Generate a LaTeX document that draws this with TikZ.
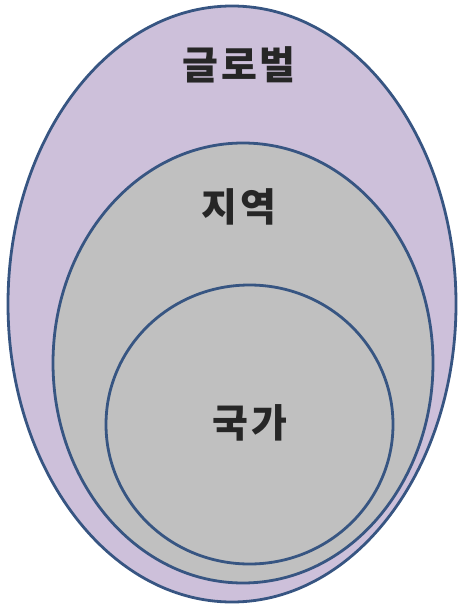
\documentclass[tikz,border=0pt]{standalone}
\usepackage{fontspec}
\newfontfamily\krfont{Noto Sans CJK KR}[LetterSpace=6]
\definecolor{rimblue}{RGB}{55,85,130}
\definecolor{globalfill}{RGB}{205,192,218}
\definecolor{innerfill}{RGB}{192,192,192}
\tikzset{
  ring/.style={draw=rimblue, line width=2.8pt},
  word/.style={font=\krfont\bfseries\fontsize{39}{44}\selectfont, text=black!85}
}

\begin{document}
\begin{tikzpicture}[x=1pt,y=-1pt]
\useasboundingbox (0,0) rectangle (459,604);
\begin{scope}
\filldraw[ring, fill=globalfill] (232,304) ellipse (224 and 298);
\filldraw[ring, fill=innerfill] (243,363) ellipse (190 and 220);
\filldraw[ring, fill=innerfill] (249.5,424.5) ellipse (143.5 and 139.5);
\node[word] (global) at (239,65) {글로벌};
\node[word] (region) at (239,207) {지역};
\node[word] (nation) at (250,423) {국가};
\end{scope}
\end{tikzpicture}
\end{document}
